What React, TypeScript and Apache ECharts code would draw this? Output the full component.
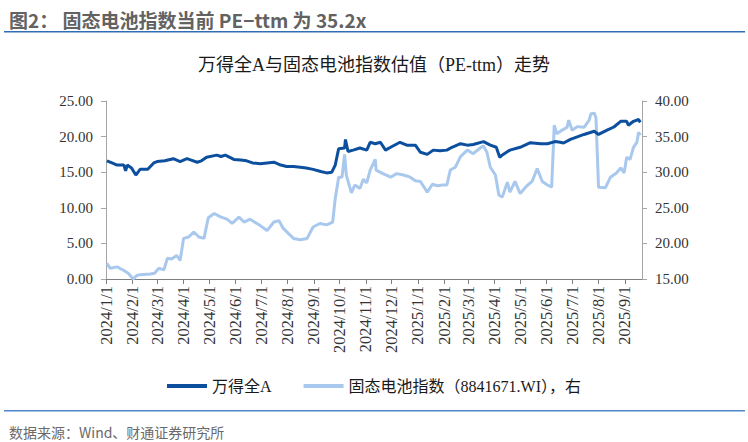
import React, { useEffect, useRef } from "react";
import * as echarts from "echarts";

// ---- data ----
const monthTicks = [
  "2024/1/1", "2024/2/1", "2024/3/1", "2024/4/1", "2024/5/1", "2024/6/1", "2024/7/1",
  "2024/8/1", "2024/9/1", "2024/10/1", "2024/11/1", "2024/12/1", "2025/1/1", "2025/2/1",
  "2025/3/1", "2025/4/1", "2025/5/1", "2025/6/1", "2025/7/1", "2025/8/1", "2025/9/1",
];
const leftTicks = [0, 5, 10, 15, 20, 25];
const rightTicks = [15, 20, 25, 30, 35, 40];

const windDates = [
  "2024-01-02", "2024-01-08", "2024-01-14", "2024-01-22", "2024-01-24", "2024-01-26", "2024-01-31",
  "2024-02-05", "2024-02-10", "2024-02-19", "2024-02-26", "2024-03-01", "2024-03-10", "2024-03-20",
  "2024-03-28", "2024-04-05", "2024-04-10", "2024-04-17", "2024-04-22", "2024-04-28", "2024-05-10",
  "2024-05-15", "2024-05-20", "2024-05-30", "2024-06-07", "2024-06-14", "2024-06-21", "2024-06-30",
  "2024-07-08", "2024-07-16", "2024-07-24", "2024-07-31", "2024-08-08", "2024-08-16", "2024-08-23",
  "2024-08-31", "2024-09-09", "2024-09-16", "2024-09-22", "2024-09-26", "2024-09-30", "2024-10-07",
  "2024-10-08", "2024-10-11", "2024-10-17", "2024-10-25", "2024-11-02", "2024-11-06", "2024-11-12",
  "2024-11-18", "2024-11-24", "2024-11-30", "2024-12-11", "2024-12-19", "2024-12-29", "2025-01-04",
  "2025-01-12", "2025-01-19", "2025-01-27", "2025-02-04", "2025-02-10", "2025-02-20", "2025-02-28",
  "2025-03-07", "2025-03-19", "2025-03-27", "2025-04-03", "2025-04-07", "2025-04-11", "2025-04-19",
  "2025-05-01", "2025-05-13", "2025-05-25", "2025-06-02", "2025-06-11", "2025-06-17", "2025-06-21",
  "2025-06-29", "2025-07-15", "2025-07-27", "2025-08-01", "2025-08-11", "2025-08-19", "2025-08-27",
  "2025-09-03", "2025-09-05", "2025-09-11", "2025-09-17", "2025-09-19",
];
const windValues = [
  16.6, 16.3, 16.0, 16.0, 15.2, 16.0, 15.6,
  14.6, 15.4, 15.4, 16.3, 16.5, 16.6, 16.9,
  16.5, 16.9, 16.7, 16.4, 16.6, 17.1, 17.4,
  17.2, 17.4, 16.8, 16.7, 16.6, 16.3, 16.2,
  16.3, 16.4, 16.0, 15.8, 15.8, 15.7, 15.6,
  15.4, 15.1, 14.9, 15.0, 16.0, 18.3, 18.4,
  19.6, 17.9, 18.1, 18.4, 18.1, 19.2, 19.0,
  19.2, 18.1, 18.5, 19.2, 18.8, 18.8, 17.8,
  17.5, 18.1, 18.0, 18.1, 18.5, 19.0, 18.8,
  18.9, 19.3, 18.8, 18.5, 17.1, 17.5, 18.1,
  18.5, 19.15, 19.0, 19.0, 19.3, 19.2, 19.1,
  19.6, 20.3, 20.75, 20.3, 20.9, 21.35, 22.15,
  22.15, 21.6, 22.15, 22.4, 22.0,
];

const ssbDates = [
  "2024-01-02", "2024-01-06", "2024-01-14", "2024-01-22", "2024-01-27", "2024-02-02", "2024-02-06",
  "2024-02-10", "2024-02-22", "2024-02-27", "2024-03-03", "2024-03-09", "2024-03-13", "2024-03-18",
  "2024-03-24", "2024-03-28", "2024-04-01", "2024-04-07", "2024-04-13", "2024-04-19", "2024-04-25",
  "2024-04-30", "2024-05-07", "2024-05-15", "2024-05-22", "2024-05-28", "2024-06-05", "2024-06-11",
  "2024-06-18", "2024-06-30", "2024-07-08", "2024-07-16", "2024-07-22", "2024-07-27", "2024-08-08",
  "2024-08-16", "2024-08-24", "2024-08-31", "2024-09-08", "2024-09-16", "2024-09-23", "2024-09-26",
  "2024-09-30", "2024-10-04", "2024-10-07", "2024-10-09", "2024-10-15", "2024-10-19", "2024-10-25",
  "2024-10-29", "2024-11-02", "2024-11-06", "2024-11-12", "2024-11-13", "2024-11-21", "2024-11-30",
  "2024-12-07", "2024-12-15", "2024-12-23", "2024-12-29", "2025-01-04", "2025-01-12", "2025-01-18",
  "2025-01-24", "2025-01-30", "2025-02-04", "2025-02-08", "2025-02-14", "2025-02-20", "2025-02-28",
  "2025-03-07", "2025-03-15", "2025-03-19", "2025-03-23", "2025-03-27", "2025-04-02", "2025-04-06",
  "2025-04-10", "2025-04-16", "2025-04-19", "2025-04-25", "2025-05-01", "2025-05-09", "2025-05-15",
  "2025-05-21", "2025-05-27", "2025-06-02", "2025-06-07", "2025-06-10", "2025-06-13", "2025-06-19",
  "2025-06-25", "2025-06-27", "2025-07-01", "2025-07-07", "2025-07-15", "2025-07-21", "2025-07-23",
  "2025-07-27", "2025-07-29", "2025-08-01", "2025-08-09", "2025-08-15", "2025-08-22", "2025-08-27",
  "2025-08-31", "2025-09-03", "2025-09-07", "2025-09-11", "2025-09-15", "2025-09-17", "2025-09-19",
];
const ssbValues = [
  17.2, 16.5, 16.7, 16.2, 15.8, 15.0, 15.5,
  15.6, 15.7, 15.8, 16.5, 16.3, 17.9, 17.8,
  18.3, 17.6, 20.7, 20.9, 21.6, 20.9, 20.7,
  23.6, 24.2, 23.7, 23.4, 22.8, 23.7, 23.0,
  23.4, 22.5, 21.8, 23.0, 23.2, 22.1, 20.7,
  20.5, 20.7, 22.3, 22.8, 22.6, 23.0, 26.3,
  29.3, 29.3, 32.5, 29.6, 27.1, 28.2, 27.7,
  29.0, 28.5, 30.3, 31.8, 30.3, 29.8, 29.3,
  29.8, 29.6, 29.3, 28.8, 28.7, 27.2, 28.3,
  28.1, 28.2, 28.2, 30.3, 30.7, 32.2, 33.1,
  32.6, 33.4, 33.7, 32.8, 30.7, 29.6, 26.8,
  26.5, 28.6, 27.2, 28.7, 27.0, 28.1, 28.7,
  30.5, 28.7, 28.2, 27.9, 36.6, 35.4, 35.9,
  36.3, 37.3, 35.9, 36.4, 36.3, 37.3, 38.2,
  38.3, 37.6, 27.9, 27.8, 29.3, 29.9, 30.6,
  29.9, 32.1, 31.8, 33.5, 34.2, 35.6, 35.2,
];

const windName = "万得全A";
const ssbName = "固态电池指数（8841671.WI），右";
const titleText = "图2： 固态电池指数当前 PE−ttm 为 35.2x";
const chartTitle = "万得全A与固态电池指数估值（PE-ttm）走势";
const sourceText = "数据来源：Wind、财通证券研究所";

const DARK = "#0B4F9E";
const LIGHT = "#A9C8EE";
const AXIS = "#A6A6A6";
const SERIF = '"Liberation Serif", "Times New Roman", "Noto Sans CJK SC", serif';
const SANS = '"Noto Sans CJK SC", "Noto Sans", sans-serif';

function toTime(s: string) {
  const p = s.split(/[\/-]/).map(Number);
  return new Date(p[0], p[1] - 1, p[2]).getTime();
}

export default function App() {
  const ref = useRef<HTMLDivElement>(null);
  useEffect(() => {
    if (!ref.current) return;
    const chart = echarts.init(ref.current, undefined, { renderer: "svg" });
    const tickTimes = monthTicks.map(toTime);
    const windData = windDates.map((d, i) => [toTime(d), windValues[i]]);
    const ssbData = ssbDates.map((d, i) => [toTime(d), ssbValues[i]]);
    chart.setOption({
      animation: false,
      backgroundColor: "#ffffff",
      title: [
        {
          text: titleText,
          left: 4,
          top: 5,
          textStyle: { fontFamily: SANS, fontSize: 19, fontWeight: "bold", color: "#626262" },
        },
        {
          text: chartTitle,
          left: "center",
          top: 51,
          textStyle: { fontFamily: SERIF, fontSize: 18, fontWeight: "normal", color: "#1A1A1A" },
        },
        {
          text: sourceText,
          left: 4,
          top: 420,
          textStyle: { fontFamily: SANS, fontSize: 14, fontWeight: "normal", color: "#6A6A6A" },
        },
      ],
      graphic: [
        { type: "rect", shape: { x: 4, y: 31, width: 741, height: 1.5 }, style: { fill: "#2F6DB5" } },
        { type: "rect", shape: { x: 4, y: 410, width: 741, height: 1.5 }, style: { fill: "#4F86CA" } },
      ],
      legend: {
        top: 373,
        left: "center",
        itemGap: 32,
        itemWidth: 40,
        itemHeight: 4,
        textStyle: { fontFamily: SERIF, fontSize: 16, color: "#1A1A1A" },
        data: [
          { name: windName, icon: "rect", itemStyle: { color: DARK } },
          { name: ssbName, icon: "rect", itemStyle: { color: LIGHT } },
        ],
      },
      grid: { left: 106, right: 106, top: 101, bottom: 163 },
      xAxis: {
        type: "value",
        min: toTime("2024-01-01"),
        max: toTime("2025-09-21"),
        scale: true,
        splitLine: { show: false },
        axisLine: { lineStyle: { color: "#7F7F7F", width: 1 } },
        axisTick: { show: true, customValues: tickTimes, length: 5, lineStyle: { color: "#7F7F7F" } },
        axisLabel: {
          customValues: tickTimes,
          rotate: 90,
          margin: 7,
          fontFamily: SERIF,
          fontSize: 16.5,
          color: "#333333",
          formatter: (v: number) => {
            const d = new Date(v);
            return `${d.getFullYear()}/${d.getMonth() + 1}/${d.getDate()}`;
          },
        },
      },
      yAxis: [
        {
          type: "value",
          min: leftTicks[0],
          max: leftTicks[leftTicks.length - 1],
          interval: 5,
          splitLine: { show: false },
          axisLine: { show: true, lineStyle: { color: AXIS } },
          axisTick: { show: true, length: 5, lineStyle: { color: AXIS } },
          axisLabel: {
            margin: 13,
            fontFamily: SERIF,
            fontSize: 15,
            color: "#333333",
            formatter: (v: number) => v.toFixed(2),
          },
        },
        {
          type: "value",
          min: rightTicks[0],
          max: rightTicks[rightTicks.length - 1],
          interval: 5,
          position: "right",
          splitLine: { show: false },
          axisLine: { show: true, lineStyle: { color: AXIS } },
          axisTick: { show: true, length: 5, lineStyle: { color: AXIS } },
          axisLabel: {
            margin: 13,
            fontFamily: SERIF,
            fontSize: 15,
            color: "#333333",
            formatter: (v: number) => v.toFixed(2),
          },
        },
      ],
      series: [
        {
          name: ssbName,
          type: "line",
          yAxisIndex: 1,
          data: ssbData,
          showSymbol: false,
          symbol: "none",
          z: 2,
          lineStyle: { color: LIGHT, width: 3 },
          itemStyle: { color: LIGHT },
        },
        {
          name: windName,
          type: "line",
          yAxisIndex: 0,
          data: windData,
          showSymbol: false,
          symbol: "none",
          z: 3,
          lineStyle: { color: DARK, width: 3 },
          itemStyle: { color: DARK },
        },
      ],
    });
    return () => chart.dispose();
  }, []);
  return (
    <div
      ref={ref}
      style={{ position: "fixed", left: 0, top: 0, width: 748, height: 442, background: "#fff" }}
    />
  );
}
